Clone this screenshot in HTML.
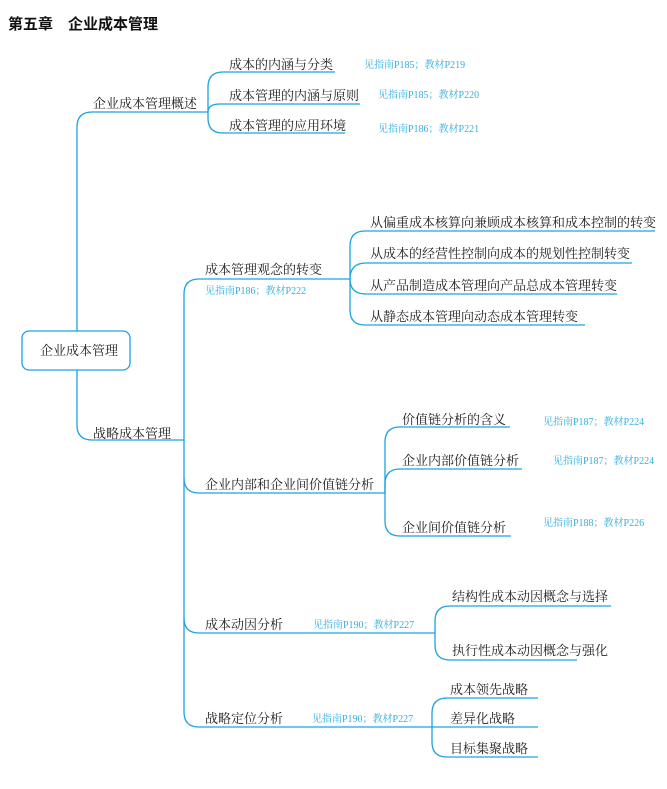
<!DOCTYPE html>
<html><head><meta charset="utf-8"><style>
body{margin:0;background:#fff;}
svg{display:block;}
text{font-family:"Liberation Serif","Noto Serif CJK SC","Noto Sans CJK SC",serif;}
.t{font-size:13px;fill:#222;}
.n{font-size:10px;fill:#33aee0;}
path{fill:none;stroke:#1aa3e0;stroke-width:1.3;}
</style></head><body>
<svg width="667" height="789" viewBox="0 0 667 789">
<text x="8" y="29" style="font-size:15px;font-weight:bold;fill:#111;font-family:'Liberation Sans','Noto Sans CJK SC',sans-serif">第五章　企业成本管理</text>
<rect x="22" y="331" width="108" height="39" rx="7" fill="#fff" stroke="#1aa3e0" stroke-width="1.3"/>
<text class="t" x="40" y="355">企业成本管理</text>
<path d="M77,331 L77,127 Q77,112 92,112 L208,112"/>
<path d="M77,370 L77,425 Q77,440 92,440 L184,440"/>
<path d="M208,112 L208,87 Q208,72 223,72 L335,72"/>
<path d="M208,112 Q208,104 220,104 L360,104"/>
<path d="M208,112 L208,118 Q208,133 223,133 L345,133"/>
<path d="M199,279 Q184,279 184,294 L184,712 Q184,727 199,727 L432,727"/>
<path d="M199,279 L350,279"/>
<path d="M184,478 Q184,493 199,493 L385,493"/>
<path d="M184,618 Q184,633 199,633 L435,633"/>
<path d="M350,279 L350,246 Q350,231 365,231 L655,231"/>
<path d="M350,279 Q350,263 366,263 L632,263"/>
<path d="M350,279 Q350,294 366,294 L617,294"/>
<path d="M350,279 L350,310 Q350,325 365,325 L585,325"/>
<path d="M385,493 L385,442 Q385,427 400,427 L510,427"/>
<path d="M385,493 L385,484 Q385,469 400,469 L522,469"/>
<path d="M385,493 L385,521 Q385,536 400,536 L511,536"/>
<path d="M435,633 L435,621 Q435,606 450,606 L611,606"/>
<path d="M435,633 L435,645 Q435,660 450,660 L577,660"/>
<path d="M432,727 L432,713 Q432,698 447,698 L538,698"/>
<path d="M432,727 L538,727"/>
<path d="M432,727 L432,742 Q432,757 447,757 L538,757"/>

<text class="t" x="93" y="108">企业成本管理概述</text>
<text class="t" x="229" y="69">成本的内涵与分类</text>
<text class="t" x="229" y="100">成本管理的内涵与原则</text>
<text class="t" x="229" y="130">成本管理的应用环境</text>
<text class="n" x="364" y="68">见指南P185；教材P219</text>
<text class="n" x="378" y="98">见指南P185；教材P220</text>
<text class="n" x="378" y="132">见指南P186；教材P221</text>

<text class="t" x="93" y="438">战略成本管理</text>
<text class="t" x="205" y="274">成本管理观念的转变</text>
<text class="n" x="205" y="294">见指南P186；教材P222</text>
<text class="t" x="370" y="227">从偏重成本核算向兼顾成本核算和成本控制的转变</text>
<text class="t" x="370" y="258">从成本的经营性控制向成本的规划性控制转变</text>
<text class="t" x="370" y="290">从产品制造成本管理向产品总成本管理转变</text>
<text class="t" x="370" y="321">从静态成本管理向动态成本管理转变</text>

<text class="t" x="205" y="489">企业内部和企业间价值链分析</text>
<text class="t" x="402" y="424">价值链分析的含义</text>
<text class="t" x="402" y="465">企业内部价值链分析</text>
<text class="t" x="402" y="532">企业间价值链分析</text>
<text class="n" x="543" y="425">见指南P187；教材P224</text>
<text class="n" x="553" y="464">见指南P187；教材P224</text>
<text class="n" x="543" y="526">见指南P188；教材P226</text>

<text class="t" x="205" y="629">成本动因分析</text>
<text class="n" x="313" y="628">见指南P190；教材P227</text>
<text class="t" x="452" y="601">结构性成本动因概念与选择</text>
<text class="t" x="452" y="655">执行性成本动因概念与强化</text>

<text class="t" x="205" y="723">战略定位分析</text>
<text class="n" x="312" y="722">见指南P190；教材P227</text>
<text class="t" x="450" y="694">成本领先战略</text>
<text class="t" x="450" y="723">差异化战略</text>
<text class="t" x="450" y="753">目标集聚战略</text>
</svg>
</body></html>
